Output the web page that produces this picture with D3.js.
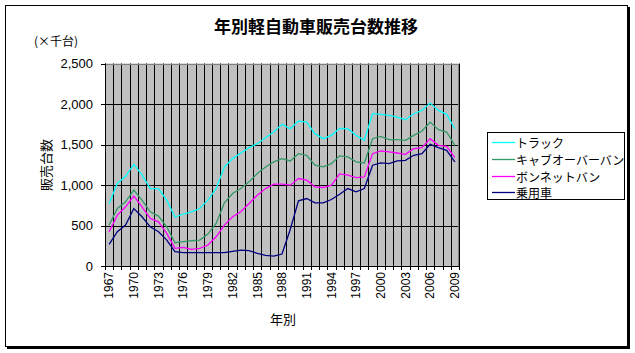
<!DOCTYPE html>
<html><head><meta charset="utf-8">
<script src="https://cdn.jsdelivr.net/npm/d3@7"></script>
<style>
body{margin:0;background:#fff;}
svg{display:block;}
</style></head>
<body><svg id="c" width="635" height="353"></svg>
<script>
const years = [1967,1968,1969,1970,1971,1972,1973,1974,1975,1976,1977,1978,1979,1980,1981,1982,1983,1984,1985,1986,1987,1988,1989,1990,1991,1992,1993,1994,1995,1996,1997,1998,1999,2000,2001,2002,2003,2004,2005,2006,2007,2008,2009];
const tickYears = [1967,1970,1973,1976,1979,1982,1985,1988,1991,1994,1997,2000,2003,2006,2009];
const yTicks = [0,500,1000,1500,2000,2500];
const seriesNames = ["トラック","キャブオーバーバン","ボンネットバン","乗用車"];
const truck = [772,1020,1108,1256,1125,956,956,813,605,640,669,710,813,956,1223,1326,1395,1461,1510,1584,1654,1749,1695,1790,1777,1634,1572,1613,1700,1695,1613,1552,1880,1872,1860,1839,1806,1880,1921,2011,1921,1872,1695];
const cabover = [505,710,792,936,813,669,616,484,287,300,312,320,394,525,780,895,956,1039,1141,1223,1285,1326,1297,1387,1367,1244,1223,1264,1360,1346,1285,1272,1572,1601,1560,1560,1552,1613,1667,1777,1683,1654,1490];
const bonnet = [423,628,731,862,731,587,546,402,218,230,205,218,259,361,505,608,669,772,874,956,1010,1010,998,1080,1059,977,969,998,1137,1121,1092,1100,1387,1420,1408,1395,1379,1449,1461,1572,1490,1478,1338];
const passenger = [267,423,505,710,608,484,423,320,177,164,164,164,164,164,164,181,197,189,156,131,123,148,450,805,833,780,780,821,885,956,915,956,1244,1272,1264,1297,1305,1367,1387,1502,1461,1428,1285];
const seriesData = [truck, cabover, bonnet, passenger];
const colors = ["#00FFFF","#339966","#FF00FF","#000080"];

const svg = d3.select("#c");
const L=105, R=459, T=63.5, B=266;
const jp = "'Noto Sans CJK JP','Noto Sans',sans-serif";
const num = "'Liberation Sans',Arial,sans-serif";

// chart border with shadow
svg.append("rect").attr("x",7).attr("y",7).attr("width",623).attr("height",342).attr("fill","#000");
svg.append("rect").attr("x",5.5).attr("y",5.5).attr("width",622).attr("height",341).attr("fill","#fff").attr("stroke","#000").attr("stroke-width",1);

const x = d3.scaleBand().domain(years).range([L,R]).padding(0);
const y = d3.scaleLinear().domain([0,2500]).range([B,T]);

// plot bg
svg.append("rect").attr("x",L).attr("y",T).attr("width",R-L).attr("height",B-T).attr("fill","#C0C0C0");

// vertical gridlines at category boundaries
const bounds = years.map(d=>x(d)).concat([R]);
svg.append("g").selectAll("line").data(bounds).join("line")
  .attr("x1",d=>Math.round(d)+0.5).attr("x2",d=>Math.round(d)+0.5)
  .attr("y1",T).attr("y2",B+4).attr("stroke","#000").attr("stroke-width",1);
// horizontal gridlines
svg.append("g").selectAll("line").data(yTicks).join("line")
  .attr("x1",L-4).attr("x2",R).attr("y1",d=>Math.round(y(d))+0.5).attr("y2",d=>Math.round(y(d))+0.5)
  .attr("stroke","#000").attr("stroke-width",1);
// plot border (top/right gray)
svg.append("rect").attr("x",L+0.5).attr("y",Math.round(T)+0.5).attr("width",R-L-1).attr("height",Math.round(B)-Math.round(T))
  .attr("fill","none").attr("stroke","#808080").attr("stroke-width",1);
svg.append("line").attr("x1",L+0.5).attr("x2",L+0.5).attr("y1",T).attr("y2",B).attr("stroke","#000");
svg.append("line").attr("x1",L).attr("x2",R).attr("y1",Math.round(B)+0.5).attr("y2",Math.round(B)+0.5).attr("stroke","#000");

// lines
const line = d3.line().x((d,i)=>x(years[i])+x.bandwidth()/2).y(d=>y(d));
seriesData.forEach((s,k)=>{
  svg.append("path").datum(s).attr("d",line).attr("fill","none")
    .attr("stroke",colors[k]).attr("stroke-width",1.3);
});

// y tick labels
svg.append("g").selectAll("text").data(yTicks).join("text")
  .attr("x",93).attr("y",d=>y(d)).attr("dy","0.35em").attr("text-anchor","end")
  .attr("font-family",num).attr("font-size",13).text(d=>d3.format(",")(d));

// x tick labels
svg.append("g").selectAll("text").data(tickYears).join("text")
  .attr("transform",d=>`translate(${x(d)+x.bandwidth()/2},272) rotate(-90)`)
  .attr("text-anchor","end").attr("dy","0.35em")
  .attr("font-family",num).attr("font-size",12).text(d=>d);

// title
svg.append("text").attr("x",316).attr("y",25).attr("text-anchor","middle").attr("dominant-baseline","central")
  .attr("font-family",jp).attr("font-weight","bold").attr("font-size",17).text("年別軽自動車販売台数推移");
svg.append("text").attr("x",34).attr("y",40).attr("dominant-baseline","central")
  .attr("font-family",jp).attr("font-size",12).text("(×千台)");
// axis titles
svg.append("text").attr("transform","translate(45,165) rotate(-90)").attr("text-anchor","middle").attr("dominant-baseline","central")
  .attr("font-family",jp).attr("font-size",13).text("販売台数");
svg.append("text").attr("x",283).attr("y",318).attr("text-anchor","middle").attr("dominant-baseline","central")
  .attr("font-family",jp).attr("font-size",13).text("年別");

// legend
svg.append("rect").attr("x",487.5).attr("y",132.5).attr("width",137).attr("height",67).attr("fill","#fff").attr("stroke","#000");
const rowsY = [142,159,176,192];
seriesNames.forEach((n,k)=>{
  svg.append("line").attr("x1",492).attr("x2",515).attr("y1",rowsY[k]+0.5).attr("y2",rowsY[k]+0.5).attr("stroke",colors[k]).attr("stroke-width",1.3);
  svg.append("text").attr("x",516).attr("y",rowsY[k]).attr("dominant-baseline","central")
    .attr("font-family",jp).attr("font-size",12).text(n);
});
</script></body></html>
